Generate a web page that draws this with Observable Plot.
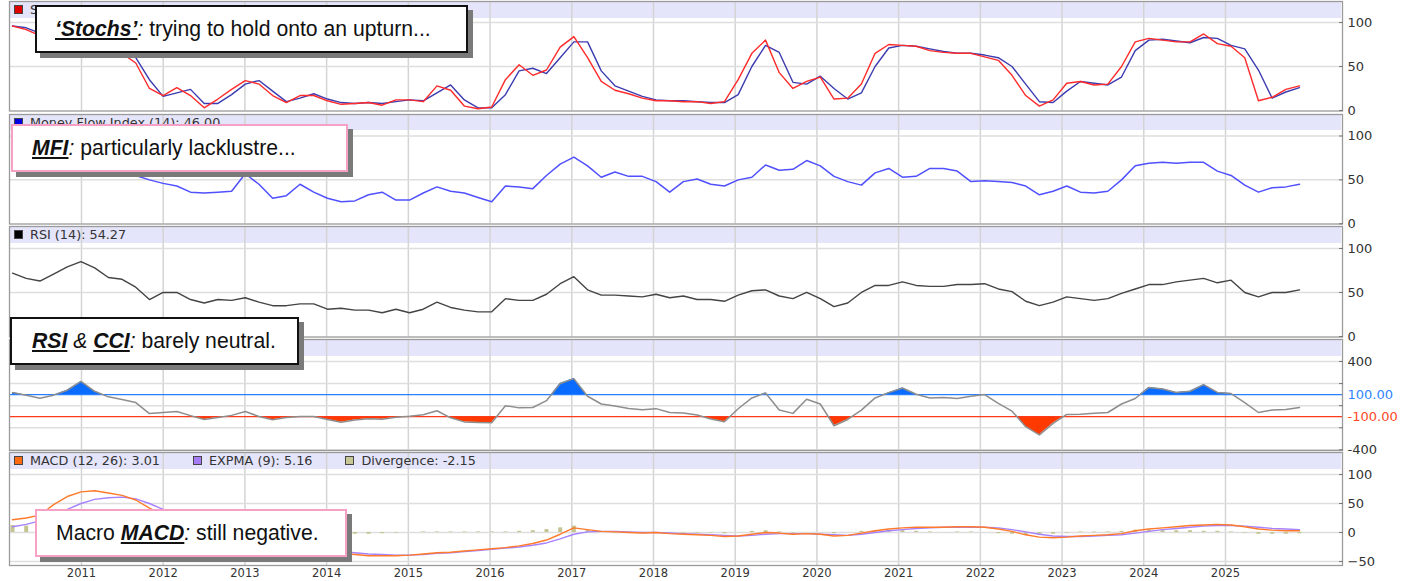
<!DOCTYPE html>
<html><head><meta charset="utf-8">
<script src="https://cdn.jsdelivr.net/npm/d3@7"></script>
<script src="https://cdn.jsdelivr.net/npm/@observablehq/plot@0.6"></script>
<style>
body{margin:0;background:#fff;}
#chart{position:relative;width:1409px;height:581px;overflow:hidden;background:#fff;font-family:"DejaVu Sans",sans-serif;}
.hdr{position:absolute;left:10px;width:1331px;height:16px;background:#e4e4fa;}
.htxt{position:absolute;font-size:12.8px;line-height:14px;color:#333;white-space:nowrap;font-family:"DejaVu Sans",sans-serif;}
.sq{display:inline-block;width:7px;height:7px;border:1px solid #444;margin-right:7px;vertical-align:0px;}
.note{position:absolute;background:#fff;box-shadow:5px 5px 0 #7a7a7a;font-family:"Liberation Sans",Arial,sans-serif;font-size:21.2px;color:#111;display:flex;align-items:center;box-sizing:border-box;white-space:nowrap;}
.note b{font-weight:bold;font-style:italic;text-decoration:underline;}
.note i{font-style:italic;}
</style></head>
<body><div id="chart"></div>
<script>
// ---- data (one value every ~2 months, Feb 2010 .. Nov 2025) ----
const years = [2011,2012,2013,2014,2015,2016,2017,2018,2019,2020,2021,2022,2023,2024,2025];
const tStart = 2010.156, tEnd = 2025.906, nPts = 95;
const stochK = [96,92,85,80,76,72,70,68,65,54,25,17,26,17,3,13,24,34,30,17,9,17,17,11,7,8,9,6,12,12,10,28,23,5,2,4,35,52,40,46,72,84,60,33,23,19,14,11,11,10,10,8,10,35,65,80,43,25,33,38,13,14,30,65,75,74,73,68,66,65,65,61,57,40,17,5,12,31,33,29,30,50,78,82,80,78,78,87,76,73,60,11,15,24,28];
const stochD = [96,94,88,82,78,74,71,69,67,60,35,16,20,24,8,8,18,30,34,22,10,14,19,13,9,8,9,8,10,12,11,20,29,12,3,3,18,45,48,42,60,78,78,45,28,22,16,12,11,11,10,9,9,18,50,74,66,32,30,39,25,13,20,50,71,74,73,70,67,65,65,63,60,50,30,10,9,22,33,31,29,38,68,80,81,79,77,83,82,74,70,46,14,21,26];
const mfi = [60,62,65,63,66,68,64,60,58,55,50,46,43,36,35,36,37,57,45,29,32,45,36,29,25,26,33,36,27,27,35,42,37,35,30,25,43,42,40,55,68,76,66,53,59,54,54,48,36,48,51,45,43,50,53,67,61,62,72,66,54,48,44,58,63,53,54,63,63,60,48,49,48,47,43,33,37,43,36,35,37,50,66,69,70,69,70,70,60,55,44,36,41,42,45];
const rsi = [72,66,63,71,79,85,78,67,65,56,42,50,50,42,38,42,41,44,39,35,35,37,37,31,32,30,30,27,31,27,31,39,33,30,28,28,43,41,41,48,60,68,53,47,47,46,45,48,44,46,42,42,40,47,52,53,46,43,50,43,34,38,50,58,58,62,58,57,57,59,59,60,54,51,40,35,39,45,43,41,43,49,54,59,59,62,64,66,61,64,50,45,50,50,53];
const cci = [120,94,68,95,140,219,130,80,56,28,-72,-62,-53,-90,-126,-108,-88,-53,-98,-128,-108,-98,-98,-125,-150,-130,-119,-123,-104,-96,-82,-46,-110,-147,-152,-155,0,-20,-17,45,200,245,85,15,-4,-25,-38,-27,-62,-66,-85,-120,-145,-28,70,115,-40,-70,58,15,-182,-125,-40,70,118,160,103,70,73,65,85,100,20,-50,-190,-265,-160,-80,-78,-68,-62,15,65,165,150,120,130,190,120,110,28,-62,-40,-35,-16];
const macd = [22,25,30,48,62,70,72,68,64,56,42,30,20,10,2,-6,-12,-18,-22,-26,-28,-30,-32,-34,-36,-38,-40,-40,-40,-39,-37,-35,-34,-32,-30,-28,-26,-23,-19,-13,-3,8,5,2,1,0,-1,0,-2,-3,-4,-5,-7,-6,-3,0,-1,-3,-2,-3,-6,-5,-1,3,6,8,9,9,9,10,10,9,6,2,-4,-8,-9,-8,-6,-5,-4,-2,3,6,8,10,12,13,14,13,10,6,4,3,3];
const expma = [10,14,20,28,40,50,57,60,61,58,50,40,30,20,11,3,-4,-10,-15,-20,-24,-27,-29,-31,-33,-35,-37,-38,-39,-39,-38,-36,-35,-33,-31,-29,-27,-25,-22,-18,-11,-3,1,2,2,1,0,0,-1,-2,-3,-4,-5,-6,-5,-3,-2,-2,-2,-3,-4,-5,-3,0,3,5,7,8,9,9,9,9,8,5,1,-3,-6,-7,-7,-6,-5,-4,-1,2,5,7,9,11,12,12,11,9,7,6,5];
const diverg = [12,11,10,20,22,20,15,8,3,-2,-8,-10,-10,-10,-9,-9,-8,-8,-7,-6,-4,-3,-3,-3,-3,-3,-3,-2,-1,0,1,1,1,1,1,1,1,2,3,5,8,11,4,0,-1,-1,-1,0,-1,-1,-1,-1,-2,0,2,3,1,-1,0,0,-2,0,2,3,3,3,2,1,0,1,1,0,-2,-3,-5,-5,-3,-1,1,1,1,2,4,4,3,3,3,2,2,1,-1,-3,-3,-3,-2];

const stochTicks = [0,50,100], cciLabelTicks = [400,-400], cciTicks = [400,200,0,-200,-400], macdTicks = [100,50,0,-50];
const headerLabels = {
  stoch: [{c:"#e00000", t:"S"}],
  mfi: [{c:"#0000e0", t:"Money Flow Index (14): 46.00"}],
  rsi: [{c:"#000000", t:"RSI (14): 54.27"}],
  cci: [],
  macd: [{c:"#ff6a13", t:"MACD (12, 26): 3.01"},{c:"#a57cf5", t:"EXPMA (9): 5.16"},{c:"#c8c896", t:"Divergence: -2.15"}]
};

// ---- build table ----
const t = d3.range(nPts).map(i => tStart + i * (tEnd - tStart) / (nPts - 1));
const rows = t.map((tt, i) => ({t: tt, k: stochK[i], d: stochD[i], mfi: mfi[i], rsi: rsi[i], cci: cci[i], macd: macd[i], expma: expma[i], div: diverg[i]}));

const W = 1409, X0 = 9, X1 = 1342;
const xDomain = [2010.119, 2026.432];
const chart = document.getElementById("chart");

function panel(p) {
  const extra = p.extraBottom || 0;
  const H = p.bottom - p.top + 2 + extra;
  const hb = document.createElement("div");
  hb.className = "hdr"; hb.style.top = (p.top + 0.5) + "px";
  chart.appendChild(hb);
  const svg = Plot.plot({
    width: W, height: H,
    marginLeft: X0, marginRight: W - X1, marginTop: 1, marginBottom: 1 + extra,
    style: {background: "transparent", fontFamily: "DejaVu Sans", fontSize: "12.5px", color: "#333", overflow: "visible"},
    x: {type: "linear", domain: xDomain, axis: null},
    y: {type: "linear", domain: p.domain, axis: null},
    marks: [
      Plot.gridX(years, {stroke: "#d4d4d4", strokeOpacity: 1, strokeWidth: 1.5}),
      Plot.gridY(p.grid, {stroke: "#dedede", strokeOpacity: 1, strokeWidth: 1.5}),
      ...p.marks,
      Plot.frame({stroke: "#9a9a9a", strokeWidth: 1.3}),
      ...p.axes
    ]
  });
  svg.style.position = "absolute"; svg.style.left = "0px"; svg.style.top = (p.top - 1) + "px";
  chart.appendChild(svg);
  if (p.after) p.after(svg, H);
  if (p.labels.length) {
    const ht = document.createElement("div");
    ht.className = "htxt"; ht.style.top = (p.top + 2) + "px"; ht.style.left = "14px";
    ht.innerHTML = p.labels.map(l => `<span style="margin-right:33px"><span class="sq" style="background:${l.c}"></span>${l.t}</span>`).join("");
    chart.appendChild(ht);
  }
  return svg;
}

const yAxis = (ticks) => [
  Plot.axisY(ticks, {anchor: "right", label: null, tickSize: -4, tickPadding: 9, fontSize: 13, stroke: "#777"})
];

// Stochastics
panel({top: 1, bottom: 110.5, domain: [-0.6, 123.9], grid: [50, 100], labels: headerLabels.stoch,
  marks: [
    Plot.line(rows, {x: "t", y: "d", stroke: "#3c3cb0", strokeWidth: 1.4}),
    Plot.line(rows, {x: "t", y: "k", stroke: "#ff2a2a", strokeWidth: 1.4})
  ], axes: yAxis(stochTicks)});

// MFI
panel({top: 113.5, bottom: 223, domain: [-0.3, 124.5], grid: [50, 100], labels: headerLabels.mfi,
  marks: [Plot.line(rows, {x: "t", y: "mfi", stroke: "#5050ff", strokeWidth: 1.5})],
  axes: yAxis(stochTicks)});

// RSI
panel({top: 226, bottom: 336.5, domain: [-0.6, 125], grid: [50, 100], labels: headerLabels.rsi,
  marks: [Plot.line(rows, {x: "t", y: "rsi", stroke: "#444", strokeWidth: 1.4})],
  axes: yAxis(stochTicks)});

// CCI
panel({top: 339, bottom: 450, domain: [-406, 599], grid: cciTicks, labels: headerLabels.cci,
  marks: [
    Plot.areaY(rows, {x: "t", y1: 100, y2: "cci", fill: "#0a6cff"}),
    Plot.areaY(rows, {x: "t", y1: -100, y2: "cci", fill: "#ff3a00"}),
    Plot.ruleY([100], {stroke: "#2a7fff", strokeWidth: 1.2}),
    Plot.ruleY([-100], {stroke: "#ff3a1a", strokeWidth: 1.2}),
    Plot.line(rows, {x: "t", y: "cci", stroke: "#8e8e8e", strokeWidth: 1.5})
  ],
  axes: [
    Plot.axisY(cciTicks, {anchor: "right", label: null, tickSize: -4, tickPadding: 9, fontSize: 13, stroke: "#777", tickFormat: d => cciLabelTicks.includes(d) ? String(d) : ""}),
    Plot.axisY([100], {anchor: "right", label: null, tickSize: 0, tickPadding: 5, fontSize: 13, fill: "#2f86ff", tickFormat: () => "100.00"}),
    Plot.axisY([-100], {anchor: "right", label: null, tickSize: 0, tickPadding: 5, fontSize: 13, fill: "#ff4a26", tickFormat: () => "-100.00"})
  ],
  after: (svg, H) => {
    const y = svg.scale("y");
    const y100 = y.apply(100), yM100 = y.apply(-100);
    const ns = "http://www.w3.org/2000/svg";
    const defs = document.createElementNS(ns, "defs");
    const mk = (id, y0, h) => {
      const cp = document.createElementNS(ns, "clipPath"); cp.setAttribute("id", id);
      const r = document.createElementNS(ns, "rect");
      r.setAttribute("x", 0); r.setAttribute("y", y0); r.setAttribute("width", W); r.setAttribute("height", h);
      cp.appendChild(r); defs.appendChild(cp);
    };
    mk("clipUp", 0, y100); mk("clipDown", yM100, H - yM100);
    svg.insertBefore(defs, svg.firstChild);
    const areas = svg.querySelectorAll('g[aria-label="area"]');
    if (areas[0]) areas[0].setAttribute("clip-path", "url(#clipUp)");
    if (areas[1]) areas[1].setAttribute("clip-path", "url(#clipDown)");
  }});

// MACD
panel({top: 452, bottom: 565, extraBottom: 16, domain: [-56.9, 137.9], grid: macdTicks, labels: headerLabels.macd,
  marks: [
    Plot.ruleX(rows, {x: "t", y1: 0, y2: "div", stroke: "#c4c492", strokeWidth: 4}),
    Plot.line(rows, {x: "t", y: "expma", stroke: "#a682ff", strokeWidth: 1.4}),
    Plot.line(rows, {x: "t", y: "macd", stroke: "#ff7a2a", strokeWidth: 1.4})
  ],
  axes: [
    ...yAxis(macdTicks),
    Plot.axisX(years, {anchor: "bottom", label: null, tickSize: 0, tickPadding: 3, fontSize: 11.5, tickFormat: d => String(d)})
  ]});

// annotation boxes
function note(x, y, w, h, border, pad, html) {
  const d = document.createElement("div");
  d.className = "note";
  Object.assign(d.style, {left: x + "px", top: y + "px", width: w + "px", height: h + "px", border: border, paddingLeft: pad + "px"});
  d.innerHTML = html;
  chart.appendChild(d);
}
note(35, 5, 433, 48, "2px solid #111", 18, `<b>‘Stochs’</b><i>:</i>&nbsp;trying to hold onto an upturn...`);
note(11, 124, 337, 48, "2px solid #f5a0c4", 19, `<b>MFI</b><i>:</i>&nbsp;particularly lacklustre...`);
note(10, 317, 289, 48, "2px solid #111", 20, `<b>RSI</b>&nbsp;<i>&amp;</i>&nbsp;<b>CCI</b><i>:</i>&nbsp;barely neutral.`);
note(35, 509, 312, 48, "2px solid #f5a0c4", 19, `Macro&nbsp;<b>MACD</b><i>:</i>&nbsp;still negative.`);
</script></body></html>
